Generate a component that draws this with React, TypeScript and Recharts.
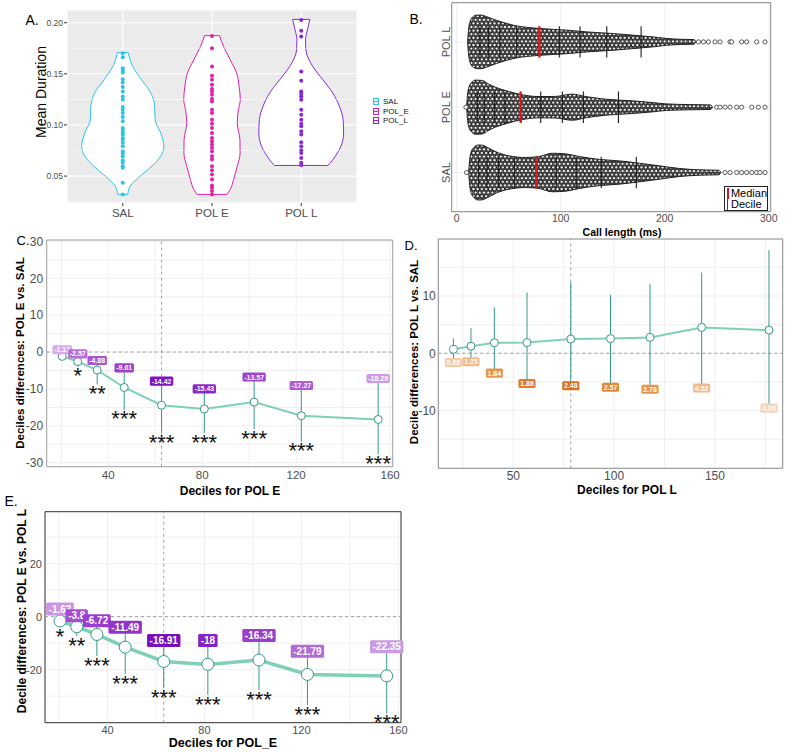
import React from 'react';
import {
  ComposedChart,
  ScatterChart,
  Scatter,
  Area,
  Line,
  XAxis,
  YAxis,
  CartesianGrid,
  ReferenceLine,
  ReferenceArea,
  ErrorBar,
  LabelList,
} from 'recharts';

const FONT = '"Liberation Sans", Arial, Helvetica, sans-serif';

// ---------- A. mean call duration per group ----------
const groupsA = ['SAL', 'POL E', 'POL L'];
const legendA = ['SAL', 'POL_E', 'POL_L'];
const durSAL = [0.1701, 0.1662, 0.1555, 0.1532, 0.1513, 0.1448, 0.1416, 0.137, 0.1328, 0.1279, 0.1247, 0.1175, 0.1149, 0.1117, 0.1078, 0.1036, 0.0971, 0.0954, 0.0929, 0.0906, 0.0873, 0.0857, 0.0825, 0.0792, 0.0743, 0.0721, 0.0695, 0.0656, 0.063, 0.0597, 0.0581, 0.0435, 0.0321];
const durPOLE = [0.187, 0.175, 0.1571, 0.1481, 0.1442, 0.1393, 0.1351, 0.1328, 0.1295, 0.1253, 0.123, 0.1149, 0.1117, 0.1052, 0.1013, 0.0971, 0.0922, 0.0873, 0.0841, 0.0808, 0.0776, 0.0743, 0.0695, 0.0662, 0.0597, 0.0558, 0.0516, 0.0467, 0.0409, 0.0386, 0.0354, 0.0321];
const durPOLL = [0.2026, 0.1922, 0.1864, 0.1523, 0.1432, 0.1328, 0.1305, 0.1279, 0.1247, 0.1149, 0.1101, 0.1052, 0.1013, 0.0987, 0.0938, 0.0906, 0.0831, 0.0792, 0.0753, 0.0727, 0.0678, 0.063, 0.0607];
// violin outlines: [duration, half width in group units]
const violinSAL = [[0.1708, 0.061], [0.1571, 0.112], [0.1442, 0.21], [0.1312, 0.315], [0.1182, 0.358], [0.1052, 0.363], [0.0922, 0.425], [0.0792, 0.46], [0.0695, 0.425], [0.0597, 0.326], [0.05, 0.196], [0.0403, 0.084], [0.0321, 0.056]];
const violinPOLE = [[0.1873, 0.084], [0.1766, 0.13], [0.1636, 0.205], [0.1506, 0.276], [0.1377, 0.304], [0.1247, 0.317], [0.1149, 0.296], [0.1019, 0.283], [0.0857, 0.313], [0.0727, 0.315], [0.0597, 0.283], [0.0467, 0.242], [0.037, 0.205], [0.0321, 0.168]];
const violinPOLL = [[0.2032, 0.097], [0.1929, 0.069], [0.1831, 0.048], [0.1734, 0.052], [0.1571, 0.13], [0.1442, 0.242], [0.1312, 0.354], [0.1182, 0.428], [0.1052, 0.469], [0.0922, 0.475], [0.0792, 0.445], [0.0695, 0.382], [0.063, 0.328], [0.0604, 0.298]];

// ---------- B. call length swarms ----------
const rowsB = ['SAL', 'POL E', 'POL L'];
// swarm outline: [call length ms, half height in row units]
const swarmSAL = [[11.5, 0], [12.5, 0.2], [14, 0.32], [17, 0.39], [20, 0.42], [24, 0.42], [30, 0.38], [37.3, 0.32], [50.2, 0.255], [66.2, 0.23], [79, 0.244], [92, 0.295], [105, 0.285], [118, 0.244], [137.4, 0.2], [156.6, 0.178], [175.9, 0.142], [195, 0.102], [214.4, 0.061], [233.6, 0.041], [252, 0.035], [254, 0]];
const swarmPOLE = [[9.5, 0], [10.5, 0.2], [12, 0.32], [15, 0.39], [18.1, 0.415], [24.5, 0.41], [30, 0.36], [37.3, 0.305], [50.2, 0.24], [63, 0.19], [79, 0.163], [95, 0.165], [111, 0.2], [124, 0.163], [143.5, 0.122], [169, 0.097], [188.6, 0.071], [201.4, 0.05], [224, 0.04], [244, 0.035], [246, 0]];
const swarmPOLL = [[10.5, 0], [11.5, 0.2], [13, 0.32], [16, 0.39], [19.5, 0.41], [24, 0.41], [28, 0.39], [38.4, 0.33], [54.5, 0.255], [80, 0.205], [106, 0.18], [125, 0.153], [150.6, 0.128], [170, 0.102], [189, 0.076], [202, 0.052], [215, 0.04], [228, 0.035], [230, 0]];
const tailSAL = [9.5, 258, 262.8, 269.2, 274, 278.8, 283.7, 288.4, 291.6, 296.4];
const tailPOLE = [8.9, 250, 253.2, 258, 262.8, 269.2, 274, 283.7, 290, 296.4];
const tailPOLL = [232.4, 237.2, 242, 248.4, 253.2, 262.8, 264.4, 274, 278.8, 288.4, 296.4];
const decSAL = [21.1, 29.1, 40.3, 55.7, 76.5, 95.7, 115.0, 139.0, 172.7];
const decPOLE = [19.8, 26.5, 36.5, 46.4, 61.5, 80.8, 101.6, 121.8, 155.5];
const decPOLL = [22.4, 30.4, 41.6, 57.7, 79.5, 98.7, 118.6, 144.3, 177.3];

// ---------- C. POL E vs SAL ----------
const decC = [20.4, 27.0, 35.3, 46.8, 62.7, 80.9, 102.1, 122.2, 154.9];
const diffC = [-1.17, -2.57, -4.88, -9.61, -14.42, -15.43, -13.57, -17.27, -18.29];
const hiC = [-0.2, -1.3, -3.1, -5.1, -8.7, -10.8, -7.6, -9.9, -8.0];
const loC = [-2.2, -4.0, -8.8, -15.7, -22.0, -22.0, -20.9, -24.3, -27.8];
const sigC = ['', '*', '**', '***', '***', '***', '***', '***', '***'];

// ---------- D. POL L vs SAL ----------
const decD = [20.3, 29.0, 40.6, 56.8, 78.5, 98.2, 117.8, 143.4, 176.8];
const diffD = [0.69, 1.25, 1.84, 1.88, 2.48, 2.57, 2.78, 4.52, 4.05];
const hiD = [2.6, 4.4, 8.0, 10.6, 12.4, 10.2, 12.1, 14.1, 18.0];
const loD = [-1.35, -1.2, -3.2, -5.0, -5.4, -5.65, -6.0, -5.8, -9.3];

// ---------- E. POL E vs POL L ----------
const decE = [20.4, 27.3, 35.6, 47.3, 63.2, 81.4, 102.5, 122.5, 155.2];
const diffE = [-1.63, -3.8, -6.72, -11.49, -16.91, -18, -16.34, -21.79, -22.35];
const hiE = [0.6, -1.9, -3.8, -6.3, -11.3, -11.3, -9.4, -15.3, -13.6];
const loE = [-3.8, -7.3, -14.8, -21.7, -27.0, -29.5, -27.7, -33.3, -36.5];
const sigE = ['*', '**', '***', '***', '***', '***', '***', '***', '***'];

// styles
const colorsA = ['#2fc3e4', '#df20ab', '#8c27d8'];
const badgeC = ['#d9a9ee', '#b870da', '#a855d2', '#9d40cd', '#7f12c0', '#8c28c7', '#9f45cf', '#ad5ed6', '#cc9ae6'];
const badgeD = ['#f5cba5', '#f1ba88', '#e8964f', '#df7c2d', '#d8711c', '#e2883b', '#e69350', '#efbc8b', '#f6d4b4'];
const badgeE = ['#cc94e6', '#a54cd2', '#9a3ccd', '#9233ca', '#7a0fbd', '#8523c3', '#9840cd', '#b36bd8', '#c99ae5'];
const TEAL_LINE = '#7fd0b7';
const TEAL_DARK = '#35998a';

const violins = [violinSAL, violinPOLE, violinPOLL];
const violinKeys = ['vSAL', 'vPOLE', 'vPOLL'];
const violinRows = violins.flatMap((outline, g) =>
  outline.map(([v, w]) => {
    const row: any = { v };
    violinKeys.forEach((k, j) => {
      row[k] = j === g ? [g + 1 - w, g + 1 + w] : [null, null];
    });
    return row;
  })
);
const dotSets = [durSAL, durPOLE, durPOLL].map((vals, g) => vals.map((v) => ({ x: g + 1, v })));

const swarms = [swarmSAL, swarmPOLE, swarmPOLL];
const swarmKeys = ['bSAL', 'bPOLE', 'bPOLL'];
const swarmRows = swarms.flatMap((env, g) =>
  env.map(([ms, h]) => {
    const row: any = { ms };
    swarmKeys.forEach((k, j) => {
      row[k] = j === g ? [g + 1 - h, g + 1 + h] : [null, null];
    });
    return row;
  })
);
const tailRows = [tailSAL, tailPOLE, tailPOLL].flatMap((t, g) => t.map((ms) => ({ ms, row: g + 1 })));
const decileSets = [decSAL, decPOLE, decPOLL];

function Txt({ x, y, size, bold, rot, children }: any) {
  return (
    <div
      style={{
        position: 'absolute',
        left: x,
        top: y,
        transform: rot ? 'translate(-50%, -50%) rotate(-90deg)' : 'translate(-50%, -50%)',
        fontSize: size,
        fontWeight: bold ? 700 : 400,
        color: '#000',
        whiteSpace: 'nowrap',
        lineHeight: 1,
      }}
    >
      {children}
    </div>
  );
}

function PatternDefs() {
  const circ = (cx: number, cy: number, k: string) => (
    <circle key={k} cx={cx} cy={cy} r={1.7} fill="#fff" stroke="#1f1f1f" strokeWidth={1} />
  );
  return (
    <svg width={0} height={0} style={{ position: 'absolute' }}>
      <defs>
        <pattern id="swarmDots" width={4.2} height={7.2} patternUnits="userSpaceOnUse">
          <rect width={4.2} height={7.2} fill="#fff" />
          {circ(2.1, 1.8, 'a')}
          {circ(2.1, 9.0, 'b')}
          {circ(0, 5.4, 'c')}
          {circ(4.2, 5.4, 'd')}
          {circ(0, -1.8, 'e')}
          {circ(4.2, -1.8, 'f')}
        </pattern>
      </defs>
    </svg>
  );
}

const domAx: [number, number] = [0.375, 3.625];
const domAy: [number, number] = [0.0237, 0.2124];

function PanelA() {
  return (
    <>
      <div style={{ position: 'absolute', left: 0, top: 0 }}>
        <ComposedChart width={400} height={225} data={violinRows} layout="vertical" margin={{ top: 10, right: 43, bottom: 0, left: 0 }}>
          <CartesianGrid fill="#ebebeb" stroke="#ffffff" strokeWidth={1.1} />
          <XAxis
            type="number"
            domain={domAx}
            ticks={[1, 2, 3]}
            tickFormatter={(v) => groupsA[Math.round(v) - 1]}
            height={22}
            axisLine={false}
            tickSize={3}
            tickMargin={3}
            tickLine={{ stroke: '#333' }}
            tick={{ fontSize: 11.5, fill: '#4d4d4d' }}
            interval={0}
            allowDataOverflow
          />
          <YAxis
            type="number"
            dataKey="v"
            domain={domAy}
            ticks={[0.05, 0.1, 0.15, 0.2]}
            tickFormatter={(v) => v.toFixed(2)}
            width={67}
            reversed
            axisLine={false}
            tickSize={3}
            tickMargin={1}
            tickLine={{ stroke: '#333' }}
            tick={{ fontSize: 8.5, fill: '#4d4d4d' }}
            interval={0}
            allowDataOverflow
          />
          {[0.025, 0.075, 0.125, 0.175].map((v) => (
            <ReferenceLine key={v} y={v} stroke="#ffffff" strokeWidth={0.55} />
          ))}
          {violinKeys.map((k, g) => (
            <Area
              key={k}
              dataKey={k}
              type="monotone"
              stroke={colorsA[g]}
              strokeWidth={1}
              fill="#ffffff"
              fillOpacity={1}
              connectNulls
              dot={false}
              activeDot={false}
              isAnimationActive={false}
            />
          ))}
          {violins.flatMap((outline, g) =>
            [outline[0], outline[outline.length - 1]].map(([v, w], j) => (
              <ReferenceLine
                key={`cap${g}${j}`}
                segment={[{ x: g + 1 - w, y: v }, { x: g + 1 + w, y: v }]}
                stroke={colorsA[g]}
                strokeWidth={1}
              />
            ))
          )}
        </ComposedChart>
      </div>
      <div style={{ position: 'absolute', left: 0, top: 0 }}>
        <ScatterChart width={400} height={225} margin={{ top: 10, right: 43, bottom: 22, left: 67 }}>
          <XAxis type="number" dataKey="x" domain={domAx} hide allowDataOverflow />
          <YAxis type="number" dataKey="v" domain={domAy} hide allowDataOverflow />
          {dotSets.map((d, g) => (
            <Scatter
              key={g}
              data={d}
              isAnimationActive={false}
              shape={(p: any) => <circle cx={p.cx} cy={p.cy} r={2} fill={colorsA[g]} />}
            />
          ))}
        </ScatterChart>
      </div>
      <div style={{ position: 'absolute', left: 373, top: 97, fontSize: 8, lineHeight: '9.5px', color: '#111' }}>
        {legendA.map((name, g) => (
          <div key={name} style={{ display: 'flex', alignItems: 'center', height: 9.5 }}>
            <div
              style={{
                width: 6,
                height: 7,
                border: `1px solid ${colorsA[g]}`,
                background: '#f2f2f2',
                position: 'relative',
                marginRight: 4,
                boxSizing: 'border-box',
              }}
            >
              <div style={{ position: 'absolute', left: 0, right: 0, top: 2, height: 1, background: colorsA[g] }} />
            </div>
            {name}
          </div>
        ))}
      </div>
    </>
  );
}

function RowTick({ x, y, payload }: any) {
  return (
    <text x={x} y={y} transform={`rotate(-90 ${x} ${y})`} textAnchor="middle" fontSize={11} fill="#4d4d4d">
      {rowsB[Math.round(payload.value) - 1]}
    </text>
  );
}

function PanelB() {
  return (
    <>
      <div style={{ position: 'absolute', left: 400, top: 0 }}>
        <ComposedChart width={388} height={245} data={swarmRows} margin={{ top: 2.7, right: 17.3, bottom: 13.3, left: 0 }}>
          <CartesianGrid stroke="#ebebeb" strokeWidth={0.8} />
          <XAxis
            type="number"
            dataKey="ms"
            domain={[-4.8, 301.9]}
            ticks={[0, 100, 200, 300]}
            height={20}
            axisLine={false}
            tickLine={false}
            tickSize={1}
            tickMargin={1.5}
            tick={{ fontSize: 10.5, fill: '#4d4d4d' }}
            interval={0}
            allowDataOverflow
          />
          <YAxis
            type="number"
            domain={[0.4, 3.6]}
            ticks={[1, 2, 3]}
            width={51.7}
            axisLine={false}
            tickLine={false}
            tickSize={0}
            tickMargin={2}
            tick={<RowTick />}
            interval={0}
            allowDataOverflow
          />
          {swarmKeys.map((k) => (
            <Area
              key={k}
              dataKey={k}
              type="monotone"
              stroke="#1f1f1f"
              strokeWidth={1}
              fill="url(#swarmDots)"
              fillOpacity={1}
              connectNulls
              dot={false}
              activeDot={false}
              isAnimationActive={false}
            />
          ))}
          <Scatter
            data={tailRows}
            dataKey="row"
            isAnimationActive={false}
            shape={(p: any) => <circle cx={p.cx} cy={p.cy} r={2.1} fill="#fff" stroke="#333" strokeWidth={0.8} />}
          />
          {decileSets.flatMap((ds, g) =>
            ds.map((d, i) => (
              <ReferenceLine
                key={`d${g}${i}`}
                segment={[{ x: d, y: g + 1 - 0.24 }, { x: d, y: g + 1 + 0.24 }]}
                stroke={i === 4 ? '#d7191c' : '#1e1e1e'}
                strokeWidth={i === 4 ? 2.4 : 1.1}
              />
            ))
          )}
          <ReferenceArea x1={-4.8} x2={301.9} y1={0.4} y2={3.6} fill="none" stroke="#888" strokeWidth={1} />
        </ComposedChart>
      </div>
      <div
        style={{
          position: 'absolute',
          left: 724,
          top: 186,
          width: 44,
          height: 25,
          border: '1px solid #222',
          background: '#fff',
          boxSizing: 'border-box',
          fontSize: 11,
          lineHeight: '11.5px',
          paddingLeft: 2,
          paddingTop: 0.5,
        }}
      >
        <div style={{ display: 'flex', alignItems: 'center' }}>
          <span style={{ display: 'inline-block', width: 2, height: 11, background: '#d7191c', marginRight: 2 }} />
          Median
        </div>
        <div style={{ display: 'flex', alignItems: 'center' }}>
          <span style={{ display: 'inline-block', width: 1, height: 11, background: '#444', marginRight: 3 }} />
          Decile
        </div>
      </div>
    </>
  );
}

const charW = (c: string) => (c === '.' ? 0.278 : c === '-' ? 0.333 : 0.556);

function makeBadge(colors: string[], fs: number, dy: number) {
  return (props: any) => {
    const x = props.x ?? props.viewBox?.x;
    const y = props.y ?? props.viewBox?.y;
    if (x == null || y == null || props.value == null) return null;
    const txt = String(props.value);
    const w = [...txt].reduce((s, c) => s + charW(c), 0) * fs + fs * 0.5;
    const h = fs * 1.3;
    const cy = y + dy;
    const i = props.index ?? 0;
    return (
      <g key={`b${i}`}>
        <rect x={x - w / 2} y={cy - h / 2} width={w} height={h} rx={1.5} fill={colors[i]} />
        <text x={x} y={cy} dy="0.36em" textAnchor="middle" fontSize={fs} fontWeight={700} fill="#fff">
          {txt}
        </text>
      </g>
    );
  };
}

function makeSig(dy: number) {
  return (props: any) => {
    const x = props.x ?? props.viewBox?.x;
    const y = props.y ?? props.viewBox?.y;
    if (!props.value || x == null || y == null) return null;
    return (
      <text key={`s${props.index}`} x={x} y={y + dy} textAnchor="middle" fontSize={22} fill="#111">
        {props.value}
      </text>
    );
  };
}

function DecilePanel(p: any) {
  const rows = p.xs.map((x: number, i: number) => ({
    x,
    y: p.ys[i],
    err: [p.ys[i] - p.los[i], p.his[i] - p.ys[i]],
    hi: p.his[i],
    lo: p.los[i],
    lab: String(p.ys[i]),
    sig: p.sigs ? p.sigs[i] : '',
  }));
  return (
    <div style={{ position: 'absolute', left: p.left, top: p.top }}>
      <ComposedChart width={p.width} height={p.height} data={rows} margin={p.margin}>
        <CartesianGrid stroke="#ebebeb" strokeWidth={0.8} />
        <XAxis
          type="number"
          dataKey="x"
          domain={p.xDomain}
          ticks={p.xTicks}
          tickFormatter={(v) => (p.xShown.includes(v) ? String(v) : '')}
          height={20}
          axisLine={false}
          tickLine={false}
          tickSize={p.xOff[0]}
          tickMargin={p.xOff[1]}
          tick={{ fontSize: p.xFont, fill: '#4d4d4d' }}
          interval={0}
          allowDataOverflow
        />
        <YAxis
          type="number"
          domain={p.yDomain}
          ticks={p.yTicks}
          tickFormatter={(v) => (p.yShown.includes(v) ? String(v) : '')}
          width={p.yWidth}
          axisLine={false}
          tickLine={false}
          tickSize={p.yOff[0]}
          tickMargin={p.yOff[1]}
          tick={{ fontSize: p.yFont, fill: '#4d4d4d' }}
          interval={0}
          allowDataOverflow
        />
        <ReferenceLine y={0} stroke="#8a8a8a" strokeDasharray="3 3" strokeWidth={0.8} />
        <ReferenceLine x={p.medianX} stroke="#8a8a8a" strokeDasharray="3 3" strokeWidth={0.8} />
        <Line
          dataKey="y"
          type="linear"
          stroke={TEAL_LINE}
          strokeWidth={p.lineW}
          dot={(d: any) => (
            <circle key={`pt${d.index}`} cx={d.cx} cy={d.cy} r={p.dotR} fill="#fff" stroke={TEAL_DARK} strokeWidth={1} />
          )}
          activeDot={false}
          isAnimationActive={false}
        >
          <ErrorBar dataKey="err" width={0} stroke={TEAL_DARK} strokeWidth={1} direction="y" />
        </Line>
        <Line dataKey={p.badgeAt} stroke="none" dot={false} activeDot={false} isAnimationActive={false}>
          <LabelList dataKey="lab" content={makeBadge(p.badgeColors, p.badgeFont, p.badgeDy)} />
        </Line>
        {p.sigs && (
          <Line dataKey="lo" stroke="none" dot={false} activeDot={false} isAnimationActive={false}>
            <LabelList dataKey="sig" content={makeSig(p.sigDy)} />
          </Line>
        )}
        <ReferenceArea
          x1={p.xDomain[0]}
          x2={p.xDomain[1]}
          y1={p.yDomain[0]}
          y2={p.yDomain[1]}
          fill="none"
          stroke={p.box}
          strokeWidth={1}
        />
      </ComposedChart>
    </div>
  );
}

const steps = (a: number, b: number, s: number) => {
  const out: number[] = [];
  for (let v = a; v <= b + 1e-9; v += s) out.push(v);
  return out;
};

export default function App() {
  return (
    <div
      style={{
        position: 'absolute',
        left: 0,
        top: 0,
        width: 788,
        height: 755,
        background: '#fff',
        fontFamily: FONT,
        overflow: 'hidden',
      }}
    >
      <PatternDefs />
      <PanelA />
      <PanelB />
      <DecilePanel
        left={0}
        top={225}
        width={400}
        height={275}
        margin={{ top: 15, right: 7.3, bottom: 13.3, left: 0 }}
        yWidth={46.7}
        xDomain={[13.8, 161.1]}
        xTicks={steps(20, 160, 20)}
        xShown={[40, 80, 120, 160]}
        yDomain={[-31.1, 30.4]}
        yTicks={steps(-30, 30, 5)}
        yShown={[-30, -20, -10, 0, 10, 20, 30]}
        xs={decC}
        ys={diffC}
        his={hiC}
        los={loC}
        sigs={sigC}
        badgeColors={badgeC}
        badgeAt="hi"
        badgeFont={7}
        badgeDy={-3}
        sigDy={16.5}
        dotR={4}
        lineW={2}
        medianX={62.7}
        box="#a0a0a0"
        xFont={11.5}
        yFont={12}
        xOff={[2, 2]}
        yOff={[1.5, 2]}
      />
      <DecilePanel
        left={400}
        top={225}
        width={388}
        height={275}
        margin={{ top: 14, right: 5.3, bottom: 11.7, left: 0 }}
        yWidth={38.3}
        xDomain={[12.8, 183.6]}
        xTicks={steps(25, 175, 25)}
        xShown={[50, 100, 150]}
        yDomain={[-20.07, 19.95]}
        yTicks={steps(-15, 15, 5)}
        yShown={[-10, 0, 10]}
        xs={decD}
        ys={diffD}
        his={hiD}
        los={loD}
        badgeColors={badgeD}
        badgeAt="lo"
        badgeFont={7}
        badgeDy={1.5}
        dotR={4}
        lineW={2}
        medianX={78.5}
        box="#8c8c8c"
        xFont={12}
        yFont={12}
        xOff={[1.5, 2]}
        yOff={[1, 1.5]}
      />
      <DecilePanel
        left={0}
        top={480}
        width={420}
        height={275}
        margin={{ top: 31.7, right: 19, bottom: 12.3, left: 0 }}
        yWidth={45}
        xDomain={[14.2, 161.1]}
        xTicks={steps(20, 160, 20)}
        xShown={[40, 80, 120, 160]}
        yDomain={[-40, 39.6]}
        yTicks={steps(-30, 30, 10)}
        yShown={[-20, 0, 20]}
        xs={decE}
        ys={diffE}
        his={hiE}
        los={loE}
        sigs={sigE}
        badgeColors={badgeE}
        badgeAt="hi"
        badgeFont={10}
        badgeDy={-6}
        sigDy={17}
        dotR={6}
        lineW={3.5}
        medianX={63.2}
        box="#333"
        xFont={11}
        yFont={11}
        xOff={[2, 1.5]}
        yOff={[2, 1]}
      />
      <Txt x={32} y={20} size={14}>A.</Txt>
      <Txt x={41} y={92} size={14} rot>Mean Duration</Txt>
      <Txt x={416} y={19} size={14}>B.</Txt>
      <Txt x={622} y={231.5} size={10.5} bold>Call length (ms)</Txt>
      <Txt x={23} y={240} size={13}>C.</Txt>
      <Txt x={21} y={352.5} size={11.5} bold rot>Deciles differences: POL E vs. SAL</Txt>
      <Txt x={230} y={490.7} size={12} bold>Deciles for POL E</Txt>
      <Txt x={411} y={245} size={13}>D.</Txt>
      <Txt x={415} y={351.5} size={11.5} bold rot>Decile differences: POL L vs. SAL</Txt>
      <Txt x={627} y={489.5} size={12} bold>Deciles for POL L</Txt>
      <Txt x={11} y={501} size={14}>E.</Txt>
      <Txt x={22} y={611} size={12} bold rot>Decile differences: POL E vs. POL L</Txt>
      <Txt x={223} y={743.3} size={12.5} bold>Deciles for POL_E</Txt>
    </div>
  );
}
